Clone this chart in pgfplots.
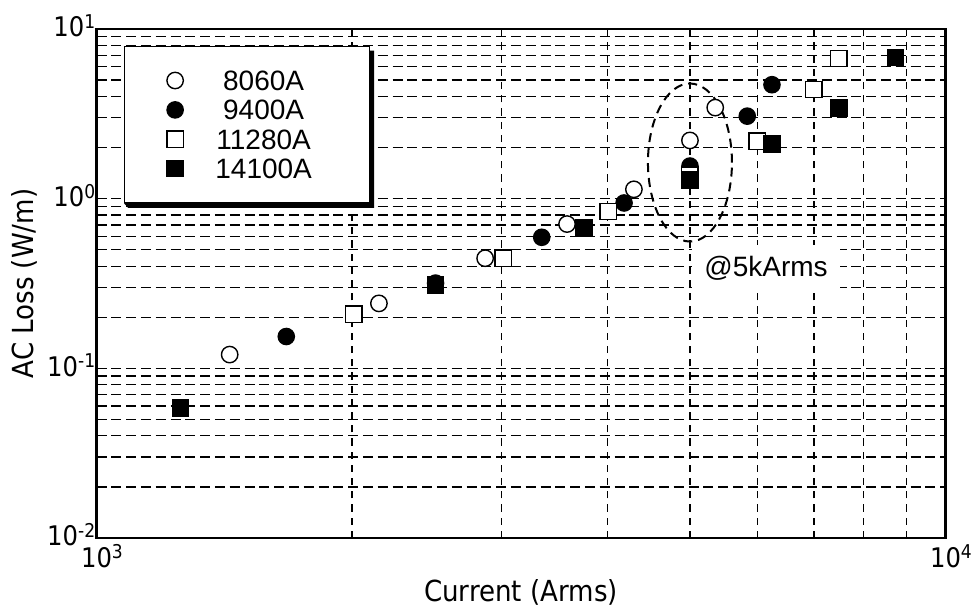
\documentclass[border=0pt]{standalone}
\usepackage{pgfplots}
\pgfplotsset{compat=1.18}
\usepackage{fontspec}
\newfontfamily\tahoma{DejaVu Sans Condensed}
\newfontfamily\arial{Liberation Sans}
\newcommand\ep[1]{10\raisebox{4.2pt}{\fontsize{9.5}{10}\selectfont #1}}
\newcommand\epx[1]{10\rlap{\raisebox{4.2pt}{\fontsize{9.5}{10}\selectfont #1}}}
\newcommand\legtxt[1]{\makebox[71pt]{#1}\hspace*{17.5pt}}

\pgfplotsset{
  myimg/.style={legend image code/.code={%
    \path[draw=none, fill=none] (0pt,-7.35pt) rectangle (34pt,7.35pt);
    \draw[##1] plot coordinates {(25.25pt,0pt)};}},
  every axis x grid/.append style={dash pattern=on 3.6pt off 3pt},
  every axis y grid/.append style={dash pattern=on 5pt off 2.4pt},
}

\begin{document}
\begin{tikzpicture}
\begin{axis}[
  scale only axis,
  width=424.5pt, height=254.5pt,
  xmode=log, ymode=log,
  xmin=1000, xmax=10000, ymin=0.01, ymax=10,
  xtick={1000,10000}, xticklabels={\epx{3},\epx{4}},
  ytick={0.01,0.1,1,10}, yticklabels={\ep{-2},\ep{-1},\ep{0},\ep{1}},
  minor xtick={2000,3000,4000,5000,6000,7000,8000,9000},
  minor ytick={0.02,0.03,0.04,0.05,0.06,0.07,0.08,0.09,0.2,0.3,0.4,0.5,0.6,0.7,0.8,0.9,2,3,4,5,6,7,8,9},
  grid=both,
  major grid style={black, line width=0.6pt},
  minor grid style={black, line width=0.6pt},
  major tick length=0pt, minor tick length=0pt,
  axis line style={line width=1.4pt},
  tick label style={font=\tahoma\fontsize{13.5}{14}\selectfont},
  yticklabel style={anchor=base east, inner xsep=0.5pt, yshift=-3.9pt},
  xticklabel style={anchor=base, inner sep=0pt, yshift=-14.6pt},
  xlabel={Current (Arms)}, ylabel={AC Loss (W/m)},
  label style={font=\tahoma\fontsize{14.5}{16}\selectfont},
  xlabel style={at={(axis description cs:0.5,-0.106)}, anchor=center},
  ylabel style={at={(axis description cs:-0.0854,0.5)}, anchor=center},
  legend style={
    name=leg,
    at={(axis description cs:0.0324,0.9666)}, anchor=north west,
    draw=black, line width=0.6pt, fill=white,
    inner xsep=0pt, inner ysep=9.6pt,
    row sep=0pt, column sep=0pt,
    font=\arial\fontsize{14}{16}\selectfont,
    nodes={inner sep=0pt, text height=10pt, text depth=0pt},
  },
]
% 8060A
\addplot[only marks, black, mark=*, mark size=4.1pt, mark options={draw=black, fill=white, line width=0.7pt}, myimg]
  coordinates {(1435,0.1205) (2151,0.2414) (2869,0.4457) (3583,0.7085) (4295,1.135) (5000,2.204) (5355,3.441)};
\addlegendentry{\legtxt{8060A}}
% 9400A
\addplot[only marks, black, mark=*, mark size=4.1pt, mark options={draw=black, fill=black, line width=0.6pt}, myimg]
  coordinates {(1673,0.154) (2508,0.318) (3345,0.592) (4182,0.943) (5000,1.557) (5841,3.064) (6246,4.695)};
\addlegendentry{\legtxt{9400A}}
% 11280A
\addplot[only marks, black, mark=square*, mark size=4.1pt, mark options={draw=black, fill=white, line width=0.7pt}, myimg]
  coordinates {(2009,0.2087) (3012,0.4457) (4006,0.840) (5000,1.377) (6000,2.183) (7000,4.398) (7487,6.709)};
\addlegendentry{\legtxt{11280A}}
% 14100A
\addplot[only marks, black, mark=square*, mark size=4.1pt, mark options={draw=black, fill=black, line width=0.6pt}, myimg]
  coordinates {(1256,0.0586) (2508,0.309) (3753,0.6737) (5000,1.287) (6246,2.096) (7487,3.418) (8732,6.810)};
\addlegendentry{\legtxt{14100A}}

\node[fill=white, inner xsep=6.4pt, inner ysep=5.6pt, font=\arial\fontsize{14}{16}\selectfont]
  at (axis cs:6146,0.391) {@5kArms};
\draw[line width=1pt, dash pattern=on 4.5pt off 3pt]
  (axis cs:5000,1.633) ellipse [x radius=21pt, y radius=39.5pt];
\end{axis}
% legend shadow (only the part that shows outside the box)
\fill[black] ([yshift=-2.3pt]leg.north east) -- ([xshift=2pt,yshift=-2.3pt]leg.north east)
  -- ([xshift=2pt,yshift=-2.3pt]leg.south east) -- ([xshift=2pt,yshift=-2.3pt]leg.south west)
  -- (leg.south west) -- (leg.south east) -- cycle;
\pgfresetboundingbox
\path[use as bounding box] ([xshift=-48.25pt, yshift=-34pt]current axis.south west)
  rectangle ([xshift=15.25pt, yshift=14.5pt]current axis.north east);
\end{tikzpicture}
\end{document}
